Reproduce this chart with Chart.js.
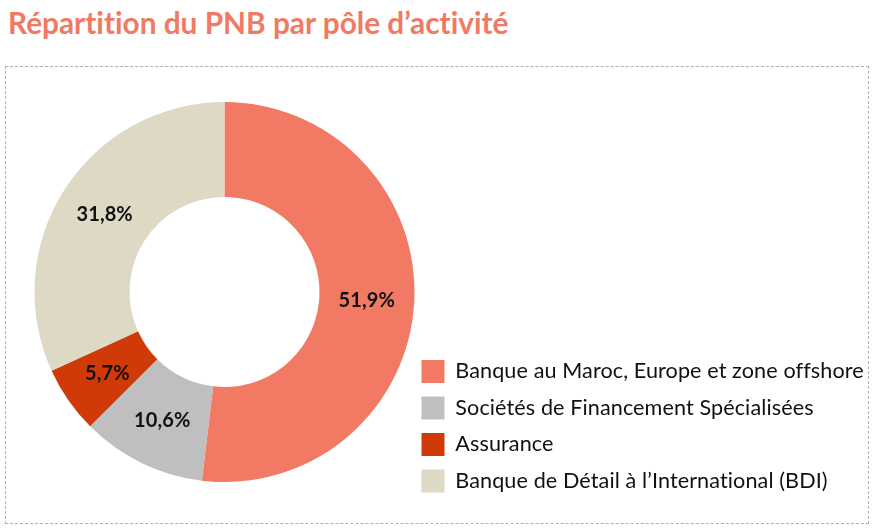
<!DOCTYPE html>
<html>
<head>
<meta charset="utf-8">
<script src="https://cdn.jsdelivr.net/npm/chart.js@4/dist/chart.umd.min.js"></script>
<style>
  body { margin: 0; background: #fff; width: 875px; height: 529px; overflow: hidden; position: relative; }
  #title { position: absolute; left: 8px; top: 5px; font: bold 29.8px Lato, sans-serif; color: #F07A63; white-space: nowrap; font-variant-ligatures: none; }
  #frame { position: absolute; left: 5px; top: 66px; width: 862px; height: 456px; border: 1px dashed #b0b0b0; }
  #wrap { position: absolute; left: 5px; top: 66px; width: 863px; height: 457px; }
</style>
</head>
<body>
<div id="title">Répartition du PNB par pôle d’activité</div>
<div id="frame"></div>
<div id="wrap"><canvas id="pnb"></canvas></div>
<script>
var categories = [
    'Banque au Maroc, Europe et zone offshore',
    'Sociétés de Financement Spécialisées',
    'Assurance',
    'Banque de Détail à l’International (BDI)'
];
var shares = [51.9, 10.6, 5.7, 31.8];
var colors = ['#F27A64', '#BFBFBF', '#D03A08', '#DDD9C4'];

function fmtPct(v) {
    return v.toFixed(1).replace('.', ',') + '%';
}

// tiny letter spacing so Lato does not merge "ff" / "ti" into ligatures
var noLigatures = {
    id: 'noLigatures',
    beforeUpdate: function(chart) { chart.ctx.letterSpacing = '0.1px'; },
    beforeDraw: function(chart) { chart.ctx.letterSpacing = '0.1px'; }
};

var sliceLabels = {
    id: 'sliceLabels',
    afterDatasetsDraw: function(chart) {
        var ctx = chart.ctx;
        var meta = chart.getDatasetMeta(0);
        ctx.save();
        ctx.font = 'bold 20px Lato, sans-serif';
        ctx.fillStyle = '#111';
        ctx.textAlign = 'center';
        ctx.textBaseline = 'middle';
        meta.data.forEach(function(arc, i) {
            var p = arc.tooltipPosition();
            ctx.fillText(fmtPct(shares[i]), p.x, p.y);
        });
        ctx.restore();
    }
};

new Chart(document.getElementById('pnb').getContext('2d'), {
    type: 'doughnut',
    data: {
        labels: categories,
        datasets: [{
            data: shares,
            backgroundColor: colors,
            borderWidth: 0,
            radius: 190,
            cutout: '50%',
            clip: false
        }]
    },
    options: {
        responsive: true,
        maintainAspectRatio: false,
        animation: false,
        layout: { padding: { left: 36, right: 0, top: 12, bottom: 17 } },
        plugins: {
            legend: {
                position: 'right',
                align: 'end',
                maxWidth: 460,
                labels: {
                    boxWidth: 23,
                    boxHeight: 23,
                    padding: 13.5,
                    color: '#111',
                    font: { family: 'Lato', size: 21.6, lineHeight: 1.05 }
                }
            },
            tooltip: { enabled: false }
        }
    },
    plugins: [noLigatures, sliceLabels]
});
</script>
</body>
</html>
